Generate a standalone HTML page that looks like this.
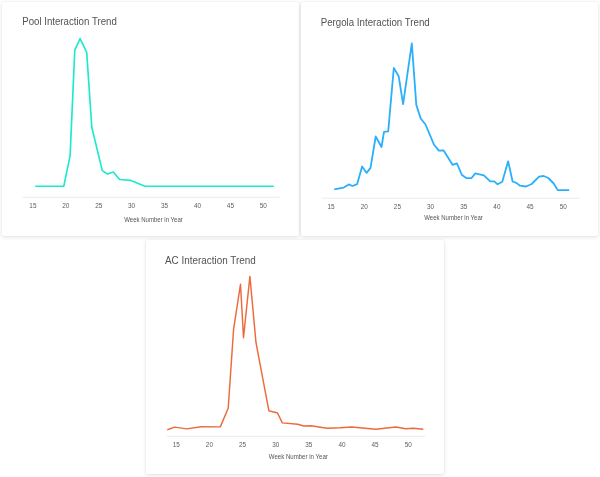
<!DOCTYPE html>
<html><head><meta charset="utf-8"><style>
html,body{margin:0;padding:0;background:#fff;width:600px;height:477px;overflow:hidden}
.card{position:absolute;background:#fff;border-radius:2px;box-shadow:0 1px 4px rgba(0,0,0,0.12),0 0 2px rgba(0,0,0,0.06)}
svg{position:absolute;left:0;top:0;will-change:transform}
text{font-family:"Liberation Sans",sans-serif}
.ti{font-size:10.6px;fill:#525252}
.tk{font-size:6.4px;fill:#5c5c5c;text-anchor:middle}
.xl{font-size:6.6px;fill:#555;text-anchor:middle}
</style></head><body>
<div class="card" style="left:2px;top:2px;width:297px;height:234px"></div>
<div class="card" style="left:301px;top:2px;width:297px;height:234px"></div>
<div class="card" style="left:146px;top:240px;width:298px;height:234px"></div>
<svg width="600" height="477" viewBox="0 0 600 477">
<text class="ti" x="22.2" y="25" textLength="94.6" lengthAdjust="spacingAndGlyphs">Pool Interaction Trend</text>
<line x1="22.8" y1="197.3" x2="279.7" y2="197.3" stroke="#e6e6e6" stroke-width="0.8"/>
<text class="tk" x="32.9" y="207.9">15</text>
<text class="tk" x="65.8" y="207.9">20</text>
<text class="tk" x="98.7" y="207.9">25</text>
<text class="tk" x="131.6" y="207.9">30</text>
<text class="tk" x="164.6" y="207.9">35</text>
<text class="tk" x="197.5" y="207.9">40</text>
<text class="tk" x="230.4" y="207.9">45</text>
<text class="tk" x="263.3" y="207.9">50</text>
<text class="xl" x="153.5" y="222" textLength="58.5" lengthAdjust="spacingAndGlyphs">Week Number in Year</text>
<polyline points="35.2,186.2 63.8,186.2 70.1,155.6 74.8,50.1 80.1,38.6 86.7,52.4 91.8,127.3 102.3,170.6 107.6,174.1 113.3,172.0 119.6,179.5 130.8,180.4 145.0,186.2 273.8,186.2" fill="none" stroke="#1de9cf" stroke-width="1.65" stroke-linejoin="round"/>

<text class="ti" x="320.7" y="25.5" textLength="109.1" lengthAdjust="spacingAndGlyphs">Pergola Interaction Trend</text>
<line x1="321.7" y1="198.2" x2="579.8" y2="198.2" stroke="#e6e6e6" stroke-width="0.8"/>
<text class="tk" x="331.0" y="208.9">15</text>
<text class="tk" x="364.2" y="208.9">20</text>
<text class="tk" x="397.4" y="208.9">25</text>
<text class="tk" x="430.6" y="208.9">30</text>
<text class="tk" x="463.7" y="208.9">35</text>
<text class="tk" x="496.9" y="208.9">40</text>
<text class="tk" x="530.1" y="208.9">45</text>
<text class="tk" x="563.3" y="208.9">50</text>
<text class="xl" x="453.5" y="220" textLength="58.5" lengthAdjust="spacingAndGlyphs">Week Number in Year</text>
<polyline points="334.2,189.4 343.7,187.6 348.8,184.4 352.4,186.0 357.1,184.2 362.1,166.5 366.6,172.9 370.5,167.9 375.7,136.5 381.5,147.0 384.0,131.8 388.2,131.3 393.8,68.0 398.7,76.3 403.1,104.2 411.8,43.4 416.3,104.9 420.7,118.5 425.5,124.5 434.1,144.8 438.8,150.6 443.5,150.3 452.5,164.8 456.9,163.4 461.9,175.0 466.7,178.2 471.4,178.2 475.3,173.4 483.9,175.3 490.2,181.3 494.2,181.3 497.6,184.3 502.3,181.7 508.1,161.3 512.6,181.5 516.3,182.9 520.1,185.7 526.1,186.5 531.7,184.0 539.0,176.7 543.7,176.0 548.3,178.0 553.7,183.5 557.7,190.1 569.2,190.1" fill="none" stroke="#2ab0fb" stroke-width="1.8" stroke-linejoin="round"/>

<text class="ti" x="165" y="263.7" textLength="90.7" lengthAdjust="spacingAndGlyphs">AC Interaction Trend</text>
<line x1="166.7" y1="436.3" x2="425" y2="436.3" stroke="#e6e6e6" stroke-width="0.8"/>
<text class="tk" x="176.2" y="447.3">15</text>
<text class="tk" x="209.4" y="447.3">20</text>
<text class="tk" x="242.5" y="447.3">25</text>
<text class="tk" x="275.7" y="447.3">30</text>
<text class="tk" x="308.8" y="447.3">35</text>
<text class="tk" x="342.0" y="447.3">40</text>
<text class="tk" x="375.1" y="447.3">45</text>
<text class="tk" x="408.3" y="447.3">50</text>
<text class="xl" x="298.3" y="458.6" textLength="59" lengthAdjust="spacingAndGlyphs">Week Number in Year</text>
<polyline points="167.3,429.7 174.7,427.1 186.7,428.9 201.3,426.8 220.3,426.9 228.2,408.3 233.6,329.1 240.5,284.3 243.5,337.7 249.9,276.4 256.0,342.7 268.9,410.8 277.5,413.0 282.3,422.9 297.7,424.3 303.7,426.0 311.0,425.7 327.0,428.3 340.0,427.8 351.7,427.0 375.8,429.2 395.8,427.0 405.8,428.7 413.3,428.3 423.3,429.3" fill="none" stroke="#ec6a3c" stroke-width="1.45" stroke-linejoin="round"/>
</svg>
</body></html>
